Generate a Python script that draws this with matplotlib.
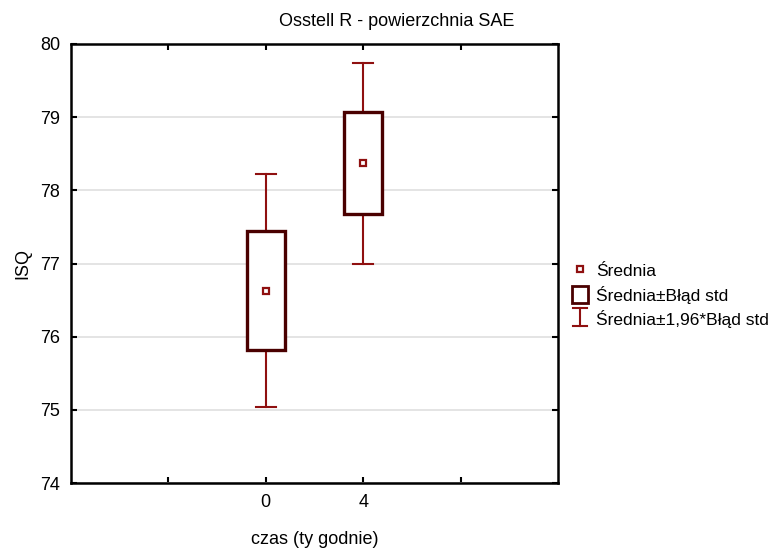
import numpy as np
import matplotlib.pyplot as plt
from matplotlib.patches import Rectangle
from matplotlib.lines import Line2D
from matplotlib.legend_handler import HandlerBase

plt.rcParams['font.family'] = ['Liberation Sans', 'DejaVu Sans']

# ISQ per time point (weeks): mean and standard error
groups = ['0', '4']
mean = np.array([76.63, 78.37])
se = np.array([0.81, 0.70])

box_col = '#4a0000'
whisk_col = '#8f1010'


class IBeamHandler(HandlerBase):
    # draws an "I" shaped whisker symbol in the legend
    def create_artists(self, legend, orig, xd, yd, width, height, fontsize, trans):
        cx = xd + width / 2
        y0, y1 = yd - height * 0.25, yd + height * 0.8
        w = width * 0.45
        art = [Line2D([cx, cx], [y0, y1]),
               Line2D([cx - w, cx + w], [y0, y0]),
               Line2D([cx - w, cx + w], [y1, y1])]
        for a in art:
            a.set_color(whisk_col)
            a.set_linewidth(1.5)
            a.set_transform(trans)
        return art


fig = plt.figure(figsize=(7.83, 5.49), dpi=100)
ax = fig.add_axes([71 / 783, 1 - 483 / 549, 487 / 783, 439 / 549])

x = np.arange(len(groups)) + 2
bw = 0.39
cap = 0.1

for xi, m, s in zip(x, mean, se):
    lo, hi = m - 1.96 * s, m + 1.96 * s
    ax.plot([xi, xi], [lo, m - s], color=whisk_col, lw=1.5, zorder=2)
    ax.plot([xi, xi], [m + s, hi], color=whisk_col, lw=1.5, zorder=2)
    ax.plot([xi - cap, xi + cap], [lo, lo], color=whisk_col, lw=1.5, zorder=2)
    ax.plot([xi - cap, xi + cap], [hi, hi], color=whisk_col, lw=1.5, zorder=2)
    ax.add_patch(Rectangle((xi - bw / 2, m - s), bw, 2 * s, facecolor='white',
                           edgecolor=box_col, lw=2.4, zorder=3))
ax.plot(x, mean, linestyle='none', marker='s', markersize=5, markerfacecolor='white',
        markeredgecolor=whisk_col, markeredgewidth=1.6, zorder=4)

ax.set_xlim(0, 5)
ax.set_ylim(74, 80)
ax.set_xticks([1, 2, 3, 4])
ax.set_xticklabels(['', groups[0], groups[1], ''])
ax.set_yticks(np.arange(74, 81))
ax.yaxis.grid(True, color='#e4e4e4', lw=1.4)
ax.set_axisbelow(True)
ax.tick_params(direction='in', length=4, width=1.5, top=True, right=True, labelsize=13, pad=8)
for sp in ax.spines.values():
    sp.set_linewidth(1.8)

fig.text(397 / 783, 1 - 22 / 549, 'Osstell R - powierzchnia SAE', fontsize=13,
         ha='center', va='center')
ax.set_xlabel('czas (ty godnie)', fontsize=13, labelpad=14)
ax.set_ylabel('ISQ', fontsize=13, labelpad=6)

h_mean = Line2D([], [], linestyle='none', marker='s', markersize=5, markerfacecolor='white',
                markeredgecolor=whisk_col, markeredgewidth=1.6)
h_box = Rectangle((0, 0), 1, 1, facecolor='white', edgecolor=box_col, lw=2)
h_whisk = Line2D([], [])
fig.legend([h_mean, h_box, h_whisk],
           ['Średnia', 'Średnia±Błąd std', 'Średnia±1,96*Błąd std'],
           handler_map={h_whisk: IBeamHandler()},
           loc='upper left', bbox_to_anchor=(565 / 783, 1 - 255 / 549),
           frameon=False, fontsize=12.5, handlelength=0.9, handleheight=1.15,
           handletextpad=0.5, labelspacing=0.35, borderaxespad=0)

fig.savefig('out.png', dpi=100)
